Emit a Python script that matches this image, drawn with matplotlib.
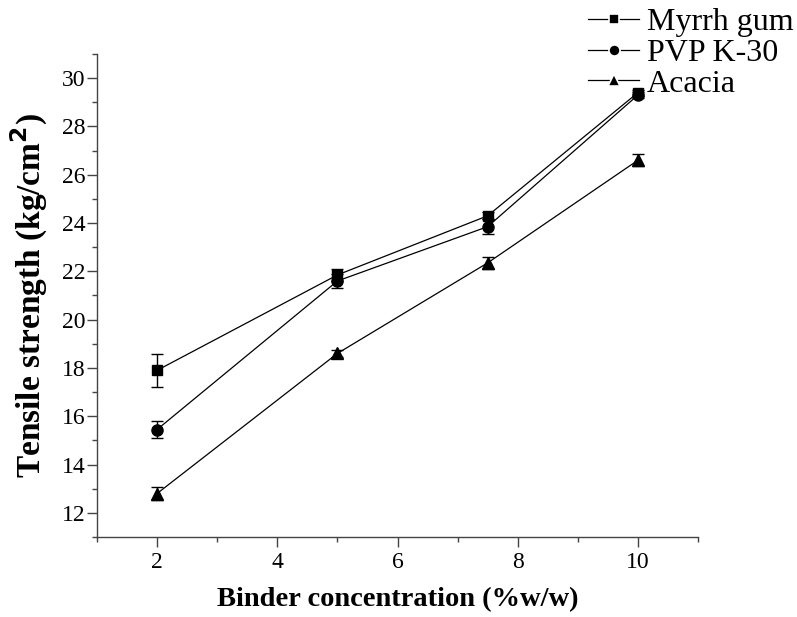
import matplotlib
matplotlib.use("Agg")
import matplotlib.pyplot as plt
from matplotlib.lines import Line2D
from matplotlib.ticker import MultipleLocator

plt.rcParams["font.family"] = ["Liberation Serif", "DejaVu Serif"]

# ── data ─────────────────────────────────────────────────────────────────────
conc = [2, 5, 7.5, 10]

myrrh     = [17.9, 21.85, 24.3, 29.4]
myrrh_err = [0.67, 0.25, 0.15, 0.12]

pvp       = [15.45, 21.6, 23.85, 29.3]
pvp_err   = [0.36, 0.3, 0.3, 0.12]

acacia     = [12.8, 18.6, 22.35, 26.6]
acacia_err = [0.28, 0.15, 0.25, 0.25]

SERIES = [
    ("Myrrh gum", myrrh, myrrh_err, "s", 7.5),
    ("PVP K-30",  pvp,   pvp_err,   "o", 8),
    ("Acacia",    acacia, acacia_err, "^", 9),
]

fig = plt.figure(figsize=(7.97, 6.17), dpi=100)
ax = fig.add_axes([0.1217, 0.1297, 0.7541, 0.7828])

handles = []
for label, vals, errs, marker, ms in SERIES:
    ax.errorbar(conc, vals, yerr=errs, color="black", marker=marker,
                markersize=ms, linewidth=0.9, elinewidth=1.0,
                capsize=4, capthick=1.0, ecolor="black", clip_on=False)
    handles.append(Line2D([], [], color="black", linewidth=0.9,
                          marker=marker, markersize=ms,
                          markeredgecolor="white", markeredgewidth=1.2,
                          label=label))

ax.set_xlim(1, 11)
ax.set_ylim(11, 31)
ax.xaxis.set_minor_locator(MultipleLocator(1))
ax.yaxis.set_minor_locator(MultipleLocator(1))
ax.set_xticks([2, 4, 6, 8, 10])
ax.set_yticks(range(12, 31, 2))

for side in ("top", "right"):
    ax.spines[side].set_visible(False)
for side in ("left", "bottom"):
    ax.spines[side].set_color("#444444")
    ax.spines[side].set_linewidth(1.0)

ax.tick_params(which="major", direction="out", length=7, width=1.0,
               color="#444444", labelsize=17, pad=1.5)
ax.tick_params(which="minor", direction="out", length=3.5, width=1.0,
               color="#444444")
ax.tick_params(axis="x", which="major", pad=4)

ax.set_xlabel("Binder concentration (%w/w)", fontsize=20.5, fontweight="bold",
              labelpad=10)
ax.set_ylabel("Tensile strength (kg/cm$^\\mathbf{2}$)", fontsize=24,
              fontweight="bold", labelpad=8)

fig.legend(handles=handles, loc="upper left",
           bbox_to_anchor=(588 / 797, 1 - 8 / 617), frameon=False,
           fontsize=23, handlelength=1.6, handletextpad=0.25,
           labelspacing=0.04, borderpad=0, borderaxespad=0)

fig.savefig("out.png", dpi=100)
